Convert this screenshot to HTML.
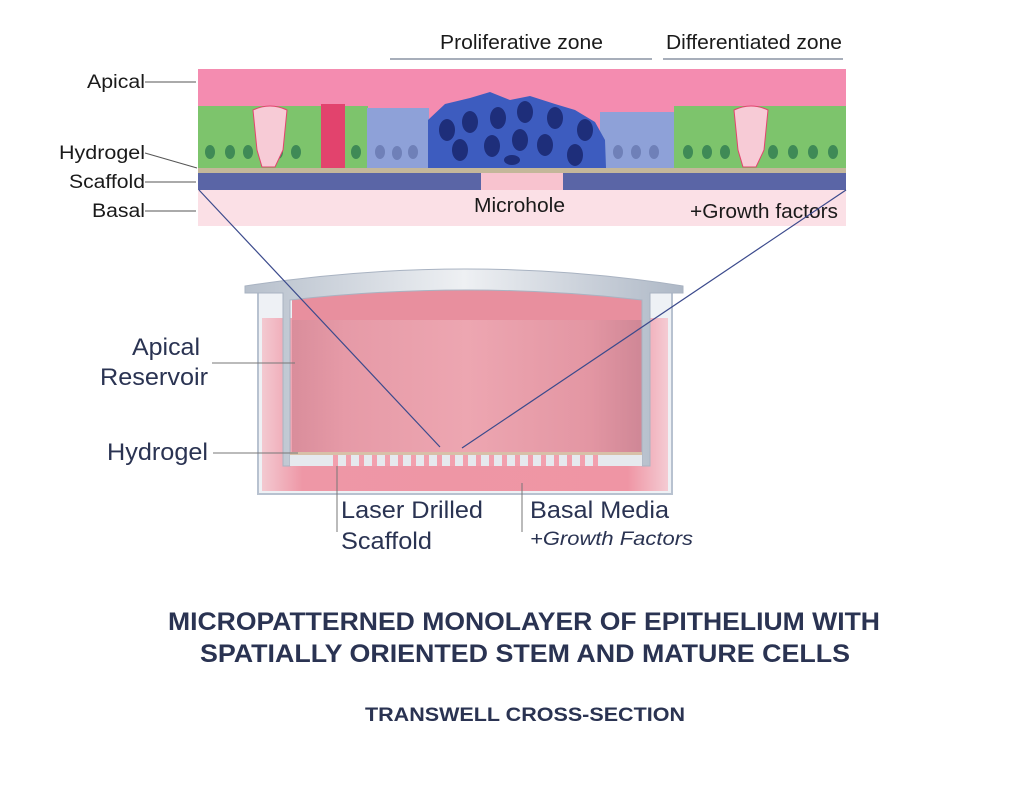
<!DOCTYPE html>
<html><head><style>
body{margin:0;background:#fff;width:1024px;height:794px;overflow:hidden}
svg{display:block}
text{font-family:"Liberation Sans",sans-serif;fill:#1a1a1a}
.d{fill:#2a3352}
</style></head><body>
<svg width="1024" height="794" viewBox="0 0 1024 794">
<defs>
<linearGradient id="lid" x1="0" x2="1"><stop offset="0" stop-color="#b7c0cc"/><stop offset=".5" stop-color="#eef0f3"/><stop offset="1" stop-color="#aeb8c6"/></linearGradient>
<linearGradient id="med" x1="0" x2="1"><stop offset="0" stop-color="#d98d9b"/><stop offset=".15" stop-color="#e69aa7"/><stop offset=".5" stop-color="#eda6b1"/><stop offset=".85" stop-color="#e396a3"/><stop offset="1" stop-color="#cf8796"/></linearGradient>
<linearGradient id="out" x1="0" x2="1"><stop offset="0" stop-color="#f3c9d1"/><stop offset=".1" stop-color="#ee97a6"/><stop offset=".9" stop-color="#ef95a4"/><stop offset="1" stop-color="#f4cbd3"/></linearGradient>
</defs>
<text x="440" y="49" font-size="20" textLength="163" lengthAdjust="spacingAndGlyphs">Proliferative zone</text>
<line x1="390" y1="59" x2="652" y2="59" stroke="#8a93a3" stroke-width="1.5"/>
<text x="666" y="49" font-size="20" textLength="176" lengthAdjust="spacingAndGlyphs">Differentiated zone</text>
<line x1="663" y1="59" x2="843" y2="59" stroke="#8a93a3" stroke-width="1.5"/>
<rect x="198" y="69" width="648" height="157" fill="#f48cb0"/>
<rect x="198" y="190" width="648" height="36" fill="#fbe0e6"/>
<rect x="198" y="106" width="170" height="62" fill="#7dc46c"/>
<rect x="674" y="106" width="172" height="62" fill="#7dc46c"/>
<rect x="321" y="104" width="24" height="64" fill="#e2436d"/>
<rect x="367" y="108" width="62" height="60" fill="#8ea1d8"/>
<rect x="600" y="112" width="74" height="56" fill="#8ea1d8"/>
<path d="M428 168 L428 120 L445 104 L470 98 L490 92 L510 100 L530 96 L555 104 L575 110 L595 122 L605 140 L606 168 Z" fill="#3d5cbf"/>
<g fill="#1e2e7a">
<ellipse cx="447" cy="130" rx="8" ry="11"/><ellipse cx="470" cy="122" rx="8" ry="11"/><ellipse cx="498" cy="118" rx="8" ry="11"/><ellipse cx="525" cy="112" rx="8" ry="11"/><ellipse cx="555" cy="118" rx="8" ry="11"/><ellipse cx="585" cy="130" rx="8" ry="11"/>
<ellipse cx="460" cy="150" rx="8" ry="11"/><ellipse cx="492" cy="146" rx="8" ry="11"/><ellipse cx="520" cy="140" rx="8" ry="11"/><ellipse cx="545" cy="145" rx="8" ry="11"/><ellipse cx="575" cy="155" rx="8" ry="11"/><ellipse cx="512" cy="160" rx="8" ry="5"/>
</g>
<g fill="#3f8a56">
<ellipse cx="210" cy="152" rx="5" ry="7"/><ellipse cx="230" cy="152" rx="5" ry="7"/><ellipse cx="248" cy="152" rx="5" ry="7"/><ellipse cx="278" cy="152" rx="5" ry="7"/><ellipse cx="296" cy="152" rx="5" ry="7"/><ellipse cx="356" cy="152" rx="5" ry="7"/>
<ellipse cx="688" cy="152" rx="5" ry="7"/><ellipse cx="707" cy="152" rx="5" ry="7"/><ellipse cx="725" cy="152" rx="5" ry="7"/><ellipse cx="773" cy="152" rx="5" ry="7"/><ellipse cx="793" cy="152" rx="5" ry="7"/><ellipse cx="813" cy="152" rx="5" ry="7"/><ellipse cx="833" cy="152" rx="5" ry="7"/>
</g>
<g fill="#6f80b8"><ellipse cx="380" cy="152" rx="5" ry="7"/><ellipse cx="397" cy="153" rx="5" ry="7"/><ellipse cx="413" cy="152" rx="5" ry="7"/><ellipse cx="618" cy="152" rx="5" ry="7"/><ellipse cx="636" cy="152" rx="5" ry="7"/><ellipse cx="654" cy="152" rx="5" ry="7"/></g>
<path d="M253 110 Q270 102 287 110 L283 150 L275 167 L262 167 L257 150 Z" fill="#f7cbd6" stroke="#e2436d" stroke-width="1"/>
<path d="M734 110 Q751 102 768 110 L764 150 L756 167 L743 167 L738 150 Z" fill="#f7cbd6" stroke="#e2436d" stroke-width="1"/>
<rect x="198" y="168" width="648" height="5" fill="#c4b79a"/>
<rect x="198" y="173" width="283" height="17" fill="#5a65a6"/>
<rect x="563" y="173" width="283" height="17" fill="#5a65a6"/>
<rect x="481" y="173" width="82" height="17" fill="#f8c3cf"/>
<text x="474" y="212" font-size="20" textLength="91" lengthAdjust="spacingAndGlyphs">Microhole</text>
<text x="690" y="218" font-size="20" textLength="148" lengthAdjust="spacingAndGlyphs">+Growth factors</text>
<text x="87" y="88" font-size="19" textLength="58" lengthAdjust="spacingAndGlyphs">Apical</text><line x1="145" y1="82" x2="196" y2="82" stroke="#555"/>
<text x="59" y="159" font-size="19" textLength="86" lengthAdjust="spacingAndGlyphs">Hydrogel</text><line x1="145" y1="153" x2="197" y2="168" stroke="#555"/>
<text x="69" y="188" font-size="19" textLength="76" lengthAdjust="spacingAndGlyphs">Scaffold</text><line x1="145" y1="182" x2="196" y2="182" stroke="#555"/>
<text x="92" y="217" font-size="19" textLength="53" lengthAdjust="spacingAndGlyphs">Basal</text><line x1="145" y1="211" x2="196" y2="211" stroke="#555"/>
<rect x="258" y="291" width="414" height="203" fill="#eef1f5" stroke="#b8c2d0" stroke-width="2"/>
<rect x="262" y="318" width="406" height="173" fill="url(#out)"/>
<rect x="292" y="300" width="350" height="153" fill="url(#med)"/>
<path d="M292 300 Q467 278 642 300 L642 320 L292 320 Z" fill="#e88f9e"/>
<path d="M245 286 Q467 252 683 286 L683 293 L650 293 L650 466 L642 466 L642 300 Q467 280 290 300 L290 466 L283 466 L283 293 L245 293 Z" fill="url(#lid)" stroke="#a9b3c2" stroke-width="1"/>
<rect x="290" y="452" width="352" height="3" fill="#d8c0a8"/>
<rect x="290" y="455" width="352" height="11" fill="#e6e9ee"/>
<g fill="#f2a0ae">
<rect x="333" y="455" width="5" height="11"/><rect x="346" y="455" width="5" height="11"/><rect x="359" y="455" width="5" height="11"/><rect x="372" y="455" width="5" height="11"/><rect x="385" y="455" width="5" height="11"/><rect x="398" y="455" width="5" height="11"/><rect x="411" y="455" width="5" height="11"/><rect x="424" y="455" width="5" height="11"/><rect x="437" y="455" width="5" height="11"/><rect x="450" y="455" width="5" height="11"/><rect x="463" y="455" width="5" height="11"/><rect x="476" y="455" width="5" height="11"/><rect x="489" y="455" width="5" height="11"/><rect x="502" y="455" width="5" height="11"/><rect x="515" y="455" width="5" height="11"/><rect x="528" y="455" width="5" height="11"/><rect x="541" y="455" width="5" height="11"/><rect x="554" y="455" width="5" height="11"/><rect x="567" y="455" width="5" height="11"/><rect x="580" y="455" width="5" height="11"/><rect x="593" y="455" width="5" height="11"/>
</g>
<line x1="199" y1="190" x2="440" y2="447" stroke="#3b4a8c" stroke-width="1.2"/>
<line x1="846" y1="190" x2="462" y2="448" stroke="#3b4a8c" stroke-width="1.2"/>
<text x="132" y="355" font-size="24" class="d" textLength="68" lengthAdjust="spacingAndGlyphs">Apical</text>
<text x="100" y="385" font-size="24" class="d" textLength="108" lengthAdjust="spacingAndGlyphs">Reservoir</text>
<line x1="212" y1="363" x2="295" y2="363" stroke="#777"/>
<text x="107" y="460" font-size="24" class="d" textLength="101" lengthAdjust="spacingAndGlyphs">Hydrogel</text>
<line x1="213" y1="453" x2="298" y2="453" stroke="#777"/>
<line x1="337" y1="466" x2="337" y2="532" stroke="#777"/>
<text x="341" y="518" font-size="24" class="d" textLength="142" lengthAdjust="spacingAndGlyphs">Laser Drilled</text>
<text x="341" y="549" font-size="24" class="d" textLength="91" lengthAdjust="spacingAndGlyphs">Scaffold</text>
<line x1="522" y1="483" x2="522" y2="532" stroke="#777"/>
<text x="530" y="518" font-size="24" class="d" textLength="139" lengthAdjust="spacingAndGlyphs">Basal Media</text>
<text x="530" y="545" font-size="19" font-style="italic" class="d" textLength="163" lengthAdjust="spacingAndGlyphs">+Growth Factors</text>
<text x="168" y="630" font-size="25" font-weight="bold" class="d" textLength="712" lengthAdjust="spacingAndGlyphs">MICROPATTERNED MONOLAYER OF EPITHELIUM WITH</text>
<text x="200" y="662" font-size="25" font-weight="bold" class="d" textLength="650" lengthAdjust="spacingAndGlyphs">SPATIALLY ORIENTED STEM AND MATURE CELLS</text>
<text x="365" y="721" font-size="19" font-weight="bold" class="d" textLength="320" lengthAdjust="spacingAndGlyphs">TRANSWELL CROSS-SECTION</text>
</svg>
</body></html>
